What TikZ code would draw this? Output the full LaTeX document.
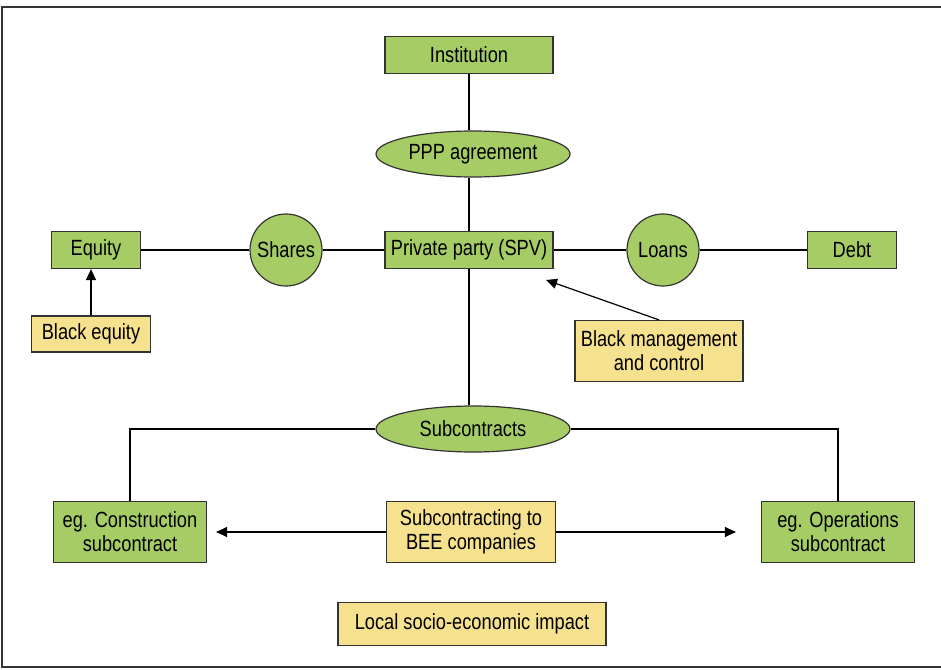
\documentclass[tikz,border=0pt]{standalone}
\usepackage{fontspec}
\setmainfont{Liberation Sans}[FakeStretch=0.83]
\usetikzlibrary{shapes.geometric,arrows.meta}
\definecolor{boxgreen}{HTML}{A6CC66}
\definecolor{boxyellow}{HTML}{F5E18E}
\definecolor{edgegrey}{HTML}{333333}

\begin{document}
\begin{tikzpicture}[x=1pt, y=-1pt, font=\fontsize{22}{24}\selectfont,
  line width=1.2pt,
  greenbox/.style={rectangle, draw=edgegrey, fill=boxgreen, inner sep=0pt, align=center},
  yellowbox/.style={rectangle, draw=edgegrey, fill=boxyellow, inner sep=0pt, align=center},
  greenoval/.style={ellipse, draw=edgegrey, fill=boxgreen, inner sep=0pt, minimum width=194pt, minimum height=46pt},
  greenround/.style={circle, draw=edgegrey, fill=boxgreen, inner sep=0pt, minimum size=72pt},
  tip/.style={-{Triangle[width=10pt,length=11pt]}}]

  \useasboundingbox (0,0) rectangle (941,669);
  % Outer frame
  \draw[edgegrey] (2,7) rectangle (946,667);

  % Top of the structure
  \node (inst) [greenbox, minimum width=168pt, minimum height=37pt] at (469,55) {Institution};
  \node (ppp) [greenoval] at (473,154) {PPP agreement};
  \node (spv) [greenbox, minimum width=168pt, minimum height=37pt] at (469,250) {Private party (SPV)};

  % Funding side
  \node (equity) [greenbox, minimum width=89pt, minimum height=37pt] at (96,250) {Equity};
  \node (shares) [greenround] at (286,250) {Shares};
  \node (loans) [greenround] at (663,250) {Loans};
  \node (debt) [greenbox, minimum width=89pt, minimum height=37pt] at (852,250) {Debt};
  \node (blackeq) [yellowbox, minimum width=119pt, minimum height=36pt] at (91,334) {Black equity};
  \node (blackmc) [yellowbox, minimum width=168pt, minimum height=61pt] at (659,351) {Black management\\and control};

  % Subcontracts
  \node (sub) [greenoval] at (473,429) {Subcontracts};
  \node (constr) [greenbox, minimum width=153pt, minimum height=61pt] at (130,532) {eg. Construction\\subcontract};
  \node (oper) [greenbox, minimum width=153pt, minimum height=61pt] at (838,532) {eg. Operations\\subcontract};
  \node (bee) [yellowbox, minimum width=169pt, minimum height=61pt] at (471,532) {Subcontracting to\\BEE companies};
  \node (local) [yellowbox, minimum width=268pt, minimum height=43pt] at (472,624) {Local socio-economic impact};

  % Lines
  \draw (inst.south) -- (inst.south |- ppp.north);
  \draw (spv.north |- ppp.south) -- (spv.north);
  \draw (equity) -- (shares) -- (spv);
  \draw (spv) -- (loans) -- (debt);
  \draw (spv.south) -- (spv.south |- sub.north);
  \draw (sub.west) -| (constr.north);
  \draw (sub.east) -| (oper.north);

  % Arrows
  \coordinate (spvtip) at (546,280);
  \draw[tip] (blackeq.north) -- (blackeq.north |- equity.south);
  \draw[tip] (blackmc.north) -- (spvtip);
  \draw[tip, shorten >=9pt] (bee.west) -- (constr.east);
  \draw[tip, shorten >=25pt] (bee.east) -- (oper.west);

\end{tikzpicture}
\end{document}
